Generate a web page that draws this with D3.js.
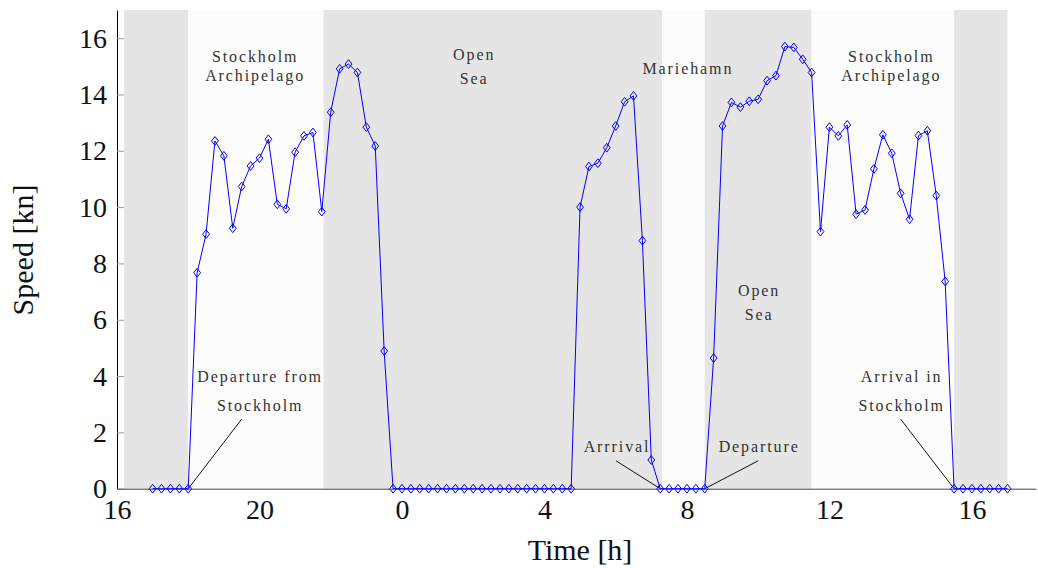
<!DOCTYPE html>
<html>
<head>
<meta charset="utf-8">
<script src="https://cdn.jsdelivr.net/npm/d3@7"></script>
<style>
  body { margin: 0; background: #fff; }
  text { font-family: 'Liberation Serif', 'Times New Roman', serif; }
</style>
</head>
<body>
<div id="chart"></div>
<script>
// hours on a continuous clock (24 = midnight, 40 = 16:00 next day)
const hours = [
  17, 17.25, 17.5, 17.75, 18, 18.25, 18.5, 18.75, 19, 19.25, 19.5, 19.75,
  20, 20.25, 20.5, 20.75, 21, 21.25, 21.5, 21.75, 22, 22.25, 22.5, 22.75,
  23, 23.25, 23.5, 23.75, 24, 24.25, 24.5, 24.75, 25, 25.25, 25.5, 25.75,
  26, 26.25, 26.5, 26.75, 27, 27.25, 27.5, 27.75, 28, 28.25, 28.5, 28.75,
  29, 29.25, 29.5, 29.75, 30, 30.25, 30.5, 30.75, 31, 31.25, 31.5, 31.75,
  32, 32.25, 32.5, 32.75, 33, 33.25, 33.5, 33.75, 34, 34.25, 34.5, 34.75,
  35, 35.25, 35.5, 35.75, 36, 36.25, 36.5, 36.75, 37, 37.25, 37.5, 37.75,
  38, 38.25, 38.5, 38.75, 39, 39.25, 39.5, 39.75, 40, 40.25, 40.5, 40.75,
  41
]
const speeds = [
  0, 0, 0, 0, 0, 7.67, 9.04, 12.35, 11.82, 9.25, 10.73, 11.46,
  11.74, 12.41, 10.10, 9.94, 11.95, 12.53, 12.65, 9.84, 13.37, 14.91, 15.08, 14.78,
  12.84, 12.17, 4.89, 0, 0, 0, 0, 0, 0, 0, 0, 0,
  0, 0, 0, 0, 0, 0, 0, 0, 0, 0, 0, 0,
  10.0, 11.44, 11.56, 12.11, 12.88, 13.74, 13.95, 8.81, 1.02, 0, 0, 0,
  0, 0, 0, 4.64, 12.88, 13.72, 13.55, 13.76, 13.83, 14.49, 14.67, 15.70,
  15.67, 15.25, 14.78, 9.13, 12.84, 12.53, 12.92, 9.75, 9.90, 11.36, 12.57, 11.91,
  10.49, 9.57, 12.54, 12.71, 10.41, 7.36, 0, 0, 0, 0, 0, 0,
  0
]

const xTicks = [16, 20, 24, 28, 32, 36, 40]
const xTickLabels = ['16', '20', '0', '4', '8', '12', '16']
const yTicks = [0, 2, 4, 6, 8, 10, 12, 14, 16]

// route sections behind the curve
const regionStart = [16.2, 18, 21.8, 31.3, 32.5, 35.5, 39.5]
const regionEnd = [18, 21.8, 31.3, 32.5, 35.5, 39.5, 41]
const regionShade = ['dark', 'light', 'dark', 'light', 'dark', 'light', 'dark']

// section names: [hour, speed, text]
const sectionLabels = [
  [19.85, 15.15, 'Stockholm'], [19.85, 14.48, 'Archipelago'],
  [26.0, 15.22, 'Open'], [26.0, 14.37, 'Sea'],
  [32.0, 14.73, 'Mariehamn'],
  [34.0, 6.84, 'Open'], [34.0, 5.99, 'Sea'],
  [37.71, 15.15, 'Stockholm'], [37.71, 14.48, 'Archipelago']
]
// event notes: text lines, text anchor (hour, speed of first line), pointer from -> to
const eventText = [['Departure from', 'Stockholm'], ['Arrrival'], ['Departure'], ['Arrival in', 'Stockholm']]
const eventAt = [[19.99, 3.80], [30.01, 1.30], [34.0, 1.30], [38.0, 3.80]]
const eventFrom = [[19.5, 2.47], [30.01, 0.99], [34.0, 0.99], [38.0, 2.47]]
const eventTo = [[18, 0], [31.25, 0], [32.5, 0], [39.5, 0]]

const width = 1038
const height = 568

const svg = d3.select('#chart')
  .append('svg')
  .attr('width', width)
  .attr('height', height)

const x = d3.scaleLinear().domain([16, 41.8]).range([117, 1036])
const y = d3.scaleLinear().domain([0, 17]).range([488.7, 10])

// shaded sections
svg.selectAll('rect.region')
  .data(regionStart)
  .enter()
  .append('rect')
  .attr('class', 'region')
  .attr('x', (d, i) => x(d))
  .attr('width', (d, i) => x(regionEnd[i]) - x(d))
  .attr('y', y(17))
  .attr('height', y(0) - y(17))
  .attr('fill', (d, i) => regionShade[i] === 'dark' ? '#e5e5e5' : '#fcfcfc')

// y axis, ticks pointing inward
const yAxis = svg.append('g')
  .attr('transform', `translate(${x(16)},0)`)
  .call(d3.axisLeft(y).tickValues(yTicks).tickSizeInner(-7).tickSizeOuter(0).tickPadding(10))
yAxis.select('.domain').attr('stroke', '#000')
yAxis.selectAll('.tick line').attr('stroke', '#999')
yAxis.selectAll('.tick text')
  .attr('font-family', "'Liberation Serif', serif")
  .attr('font-size', 28)
  .attr('fill', '#111')

// x axis
const xAxis = svg.append('g')
  .attr('transform', `translate(0,${y(0)})`)
  .call(d3.axisBottom(x).tickValues(xTicks).tickFormat((d, i) => xTickLabels[i]).tickSize(0).tickPadding(10))
xAxis.select('.domain').attr('stroke', '#444')
xAxis.selectAll('.tick text')
  .attr('font-family', "'Liberation Serif', serif")
  .attr('font-size', 28)
  .attr('fill', '#111')

// axis titles
svg.append('text')
  .attr('x', 580)
  .attr('y', 560)
  .attr('text-anchor', 'middle')
  .attr('font-size', 30)
  .attr('fill', '#111')
  .text('Time [h]')

svg.append('text')
  .attr('transform', 'translate(33,250) rotate(-90)')
  .attr('text-anchor', 'middle')
  .attr('font-size', 30)
  .attr('fill', '#111')
  .text('Speed [kn]')

// section labels
svg.selectAll('text.section')
  .data(sectionLabels)
  .enter()
  .append('text')
  .attr('class', 'section')
  .attr('x', d => x(d[0]) + 1)
  .attr('y', d => y(d[1]))
  .attr('text-anchor', 'middle')
  .attr('font-size', 16)
  .attr('letter-spacing', 1.9)
  .attr('fill', '#333')
  .text(d => d[2])

// event pointers
svg.selectAll('line.pointer')
  .data(eventFrom)
  .enter()
  .append('line')
  .attr('class', 'pointer')
  .attr('x1', d => x(d[0]))
  .attr('y1', d => y(d[1]))
  .attr('x2', (d, i) => x(eventTo[i][0]))
  .attr('y2', (d, i) => y(eventTo[i][1]))
  .attr('stroke', '#111')
  .attr('stroke-width', 1)

eventText.forEach((lines, i) => {
  lines.forEach((t, j) => {
    svg.append('text')
      .attr('x', x(eventAt[i][0]) + 1)
      .attr('y', y(eventAt[i][1]) + j * 29)
      .attr('text-anchor', 'middle')
      .attr('font-size', 16)
      .attr('letter-spacing', 1.9)
      .attr('fill', '#333')
      .text(t)
  })
})

// speed curve
const line = d3.line()
  .x((d, i) => x(hours[i]))
  .y(d => y(d))

svg.append('path')
  .datum(speeds)
  .attr('d', line)
  .attr('fill', 'none')
  .attr('stroke', '#0000ff')
  .attr('stroke-width', 1)

svg.selectAll('path.marker')
  .data(speeds)
  .enter()
  .append('path')
  .attr('class', 'marker')
  .attr('d', 'M0,-4.4L3.4,0L0,4.4L-3.4,0Z')
  .attr('transform', (d, i) => `translate(${x(hours[i])},${y(d)})`)
  .attr('fill', 'none')
  .attr('stroke', '#0000ff')
  .attr('stroke-width', 1)
</script>
</body>
</html>
